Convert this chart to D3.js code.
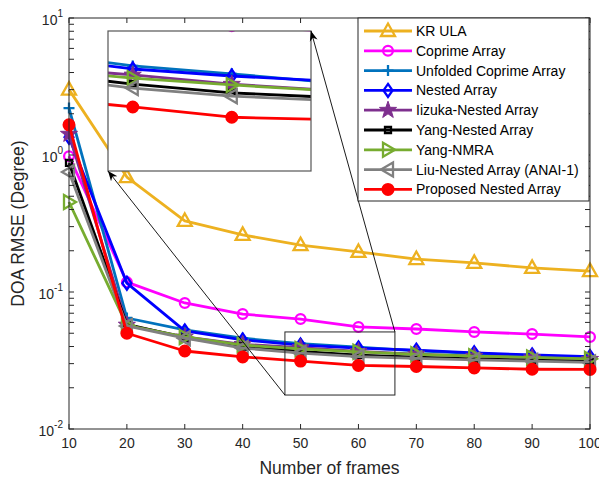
<!DOCTYPE html>
<html lang="en">
<head>
<meta charset="UTF-8">
<title>DOA RMSE vs frames</title>
<script src="https://cdn.jsdelivr.net/npm/d3@7"></script>
<style>
  body { margin: 0; background: #fff; }
  svg { font-family: "Liberation Sans", Arial, Helvetica, sans-serif; }
</style>
</head>
<body>
<svg class="root"></svg>
<script>
// ---- data ----
const frames = [10, 20, 30, 40, 50, 60, 70, 80, 90, 100];
const krUla          = [3.0, 0.69, 0.33, 0.261, 0.220, 0.196, 0.174, 0.163, 0.150, 0.142];
const coprime        = [0.98, 0.118, 0.0832, 0.069, 0.0635, 0.0556, 0.0537, 0.0511, 0.0493, 0.047];
const unfoldedCopr   = [2.2, 0.0646, 0.053, 0.046, 0.0419, 0.0396, 0.0372, 0.0356, 0.0342, 0.0334];
const nested         = [1.35, 0.116, 0.052, 0.0447, 0.0410, 0.0390, 0.0376, 0.0360, 0.0347, 0.0338];
const iizukaNested   = [1.42, 0.0574, 0.047, 0.0415, 0.0393, 0.0368, 0.0352, 0.0340, 0.0331, 0.0323];
const yangNested     = [0.875, 0.058, 0.0465, 0.0400, 0.0368, 0.0346, 0.0335, 0.0325, 0.0318, 0.0311];
const yangNmra       = [0.454, 0.057, 0.047, 0.0410, 0.0384, 0.0366, 0.0351, 0.0340, 0.0333, 0.0325];
const liuNested      = [0.75, 0.0565, 0.046, 0.0390, 0.0358, 0.0338, 0.0328, 0.0320, 0.0313, 0.0306];
const proposed       = [1.66, 0.050, 0.0371, 0.0336, 0.0313, 0.0291, 0.0286, 0.0279, 0.0273, 0.0272];

const seriesNames = ["KR ULA", "Coprime Array", "Unfolded Coprime Array", "Nested Array",
  "Iizuka-Nested Array", "Yang-Nested Array", "Yang-NMRA", "Liu-Nested Array (ANAI-1)", "Proposed Nested Array"];
const seriesValues = [krUla, coprime, unfoldedCopr, nested, iizukaNested, yangNested, yangNmra, liuNested, proposed];
const xTicks = [10, 20, 30, 40, 50, 60, 70, 80, 90, 100];
const yDecades = [-2, -1, 0, 1];

// ---- styles ----
const colors = ["#EDB120", "#FF00FF", "#0072BD", "#0000FF", "#7E2F8E", "#000000", "#77AC30", "#808080", "#FF0000"];
const markers = ["triUp", "circle", "plus", "diamond", "star", "square", "triRight", "triLeft", "dot"];

const W = 599, H = 480;
const margin = {top: 18, right: 9, bottom: 51, left: 69};
const svg = d3.select(".root").attr("width", W).attr("height", H);

const x = d3.scaleLinear().domain([10, 100]).range([margin.left, W - margin.right]);
const y = d3.scaleLog().domain([0.01, 10]).range([H - margin.bottom, margin.top]);

function markerPath(type) {
  switch (type) {
    case "triUp": return "M0,-7.5L7,5L-7,5Z";
    case "circle": return d3.symbol(d3.symbolCircle, 75)();
    case "plus": return "M-5.5,0H5.5M0,-5.5V5.5";
    case "diamond": return "M0,-6.5L4.5,0L0,6.5L-4.5,0Z";
    case "star": {
      let p = "";
      for (let i = 0; i < 10; i++) {
        const r = i % 2 ? 3.6 : 9;
        const a = -Math.PI / 2 + i * Math.PI / 5;
        p += (i ? "L" : "M") + (r * Math.cos(a)).toFixed(2) + "," + (r * Math.sin(a)).toFixed(2);
      }
      return p + "Z";
    }
    case "square": return "M-3,-3H3V3H-3Z";
    case "triRight": return "M-5,-7L7,0L-5,7Z";
    case "triLeft": return "M5,-7L-7,0L5,7Z";
    case "dot": return d3.symbol(d3.symbolCircle, 90)();
  }
}
function drawMarker(g, type, color) {
  const filled = type === "star" || type === "dot";
  g.append("path")
    .attr("d", markerPath(type))
    .attr("fill", filled ? color : "none")
    .attr("stroke", color)
    .attr("stroke-width", type === "star" ? 1 : 2.3)
    .attr("stroke-linejoin", "miter");
}

function drawSeries(g, xs, ys) {
  const line = d3.line().x((d, i) => xs(frames[i])).y(d => ys(d));
  seriesValues.forEach((vals, k) => {
    g.append("path")
      .datum(vals)
      .attr("fill", "none")
      .attr("stroke", colors[k])
      .attr("stroke-width", 2.8)
      .attr("stroke-linejoin", "round")
      .attr("d", line);
    vals.forEach((v, i) => {
      const m = g.append("g").attr("transform", `translate(${xs(frames[i])},${ys(v)})`);
      drawMarker(m, markers[k], colors[k]);
    });
  });
}

// clip for main plot
const defs = svg.append("defs");
defs.append("clipPath").attr("id", "plotClip").append("rect")
  .attr("x", margin.left - 10).attr("y", margin.top)
  .attr("width", W - margin.left - margin.right + 20).attr("height", H - margin.top - margin.bottom);

const plot = svg.append("g").attr("clip-path", "url(#plotClip)");
drawSeries(plot, x, y);

// ---- axes (MATLAB style, ticks inside, box) ----
const axColor = "#262626";
const ax = svg.append("g").attr("stroke", axColor).attr("stroke-width", 1);
const x0 = x.range()[0], x1 = x.range()[1], yb = y.range()[0], yt = y.range()[1];
const tl = 5;

xTicks.forEach(t => {
  ax.append("line").attr("x1", x(t)).attr("x2", x(t)).attr("y1", yb).attr("y2", yb - tl);
  ax.append("line").attr("x1", x(t)).attr("x2", x(t)).attr("y1", yt).attr("y2", yt + tl);
});
yDecades.forEach(e => {
  for (let m = 1; m <= 9; m++) {
    const v = m * Math.pow(10, e);
    if (v > 10) break;
    ax.append("line").attr("x1", x0).attr("x2", x0 + tl).attr("y1", y(v)).attr("y2", y(v));
    ax.append("line").attr("x1", x1).attr("x2", x1 - tl).attr("y1", y(v)).attr("y2", y(v));
  }
});

const labels = svg.append("g").attr("fill", axColor).attr("font-size", 14);
xTicks.forEach(t => {
  labels.append("text").attr("x", x(t)).attr("y", yb + 19).attr("text-anchor", "middle").text(t);
});
yDecades.forEach(e => {
  const t = labels.append("text").attr("x", x0 - 6).attr("y", y(Math.pow(10, e)) + 7).attr("text-anchor", "end");
  t.append("tspan").text("10");
  t.append("tspan").attr("dy", -8).attr("font-size", 10).text(e);
});
labels.append("text").attr("x", (x0 + x1) / 2).attr("y", yb + 45)
  .attr("text-anchor", "middle").attr("font-size", 17.5).text("Number of frames");
labels.append("text").attr("transform", `translate(24,${(yb + yt) / 2}) rotate(-90)`)
  .attr("text-anchor", "middle").attr("font-size", 17.5).text("DOA RMSE (Degree)");

// ---- zoom box, inset and arrows ----
const zoomX = [47.3, 66.3], zoomY = [0.0177, 0.0511];
const zx0 = x(zoomX[0]), zx1 = x(zoomX[1]), zy0 = y(zoomY[1]), zy1 = y(zoomY[0]);
svg.append("rect").attr("x", zx0).attr("y", zy0).attr("width", zx1 - zx0).attr("height", zy1 - zy0)
  .attr("fill", "none").attr("stroke", axColor).attr("stroke-width", 1);

const inset = {left: 108, top: 31, right: 311, bottom: 171};
const ix = d3.scaleLinear().domain([47.5, 68.0]).range([inset.left, inset.right]);
const iy = d3.scaleLog().domain([0.01986, 0.0537]).range([inset.bottom, inset.top]);

svg.append("rect").attr("x", inset.left).attr("y", inset.top)
  .attr("width", inset.right - inset.left).attr("height", inset.bottom - inset.top)
  .attr("fill", "#fff");
defs.append("clipPath").attr("id", "insetClip").append("rect")
  .attr("x", inset.left).attr("y", inset.top)
  .attr("width", inset.right - inset.left).attr("height", inset.bottom - inset.top);
const insetG = svg.append("g").attr("clip-path", "url(#insetClip)");
drawSeries(insetG, ix, iy);
svg.append("rect").attr("x", inset.left).attr("y", inset.top)
  .attr("width", inset.right - inset.left).attr("height", inset.bottom - inset.top)
  .attr("fill", "none").attr("stroke", "#555").attr("stroke-width", 1.2);

defs.append("marker").attr("id", "arrowHead")
  .attr("viewBox", "0 -5 10 10").attr("refX", 10).attr("refY", 0)
  .attr("markerWidth", 10).attr("markerHeight", 10).attr("markerUnits", "userSpaceOnUse")
  .attr("orient", "auto")
  .append("path").attr("d", "M0,-4L10,0L0,4L3,0Z").attr("fill", "#000");

svg.append("line").attr("x1", zx0).attr("y1", zy1).attr("x2", inset.left).attr("y2", inset.bottom)
  .attr("stroke", "#000").attr("stroke-width", 0.9).attr("marker-end", "url(#arrowHead)");
svg.append("line").attr("x1", zx1).attr("y1", zy0).attr("x2", inset.right).attr("y2", inset.top)
  .attr("stroke", "#000").attr("stroke-width", 0.9).attr("marker-end", "url(#arrowHead)");

// box on top of everything in the plot
ax.raise();
svg.append("rect").attr("x", x0).attr("y", yt).attr("width", x1 - x0).attr("height", yb - yt)
  .attr("fill", "none").attr("stroke", axColor).attr("stroke-width", 1);

// ---- legend ----
const lg = svg.append("g").attr("transform", "translate(358,18)");
lg.append("rect").attr("width", 231).attr("height", 183).attr("fill", "#fff")
  .attr("stroke", axColor).attr("stroke-width", 1);
seriesNames.forEach((name, k) => {
  const row = lg.append("g").attr("transform", `translate(0,${13 + k * 19.8})`);
  row.append("line").attr("x1", 6).attr("x2", 54).attr("stroke", colors[k]).attr("stroke-width", 2.8);
  drawMarker(row.append("g").attr("transform", "translate(30,0)"), markers[k], colors[k]);
  row.append("text").attr("x", 58).attr("y", 5).attr("font-size", 14).attr("fill", "#000").text(name);
});
</script>
</body>
</html>
